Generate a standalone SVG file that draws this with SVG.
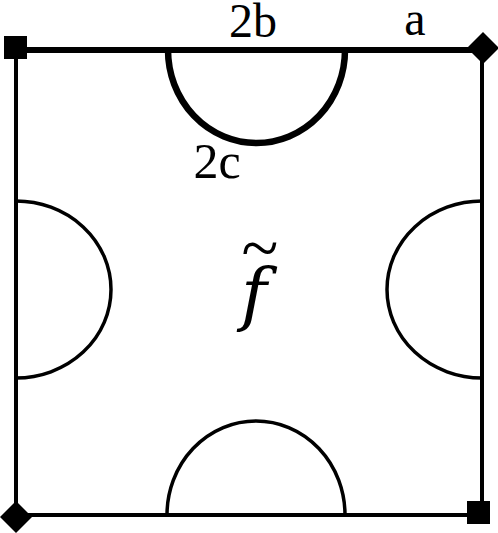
<svg xmlns="http://www.w3.org/2000/svg" width="498" height="533" viewBox="0 0 498 533">
<style>
.edge{stroke:#000;fill:none;stroke-width:4}
.top{stroke:#000;fill:none;stroke-width:6}
.arc{stroke:#000;fill:none;stroke-width:3.5}
.arcb{stroke:#000;fill:none;stroke-width:6.5}
.mk{fill:#000}
</style>
<rect width="498" height="533" fill="#fff"/>
<g id="sides">
<line class="edge" x1="16" y1="47" x2="16" y2="517"/>
<line class="edge" x1="482" y1="47" x2="482" y2="513"/>
<line class="edge" x1="16" y1="515" x2="482" y2="515"/>
<line class="top" x1="15" y1="50" x2="483" y2="50"/>
</g>
<g id="arcs">
<path class="arcb" d="M168,50 A88.5,93 0 0 0 345,50"/>
<path class="arc" d="M167,515 A89,94 0 0 1 345,515"/>
<path class="arc" d="M16,201 A95,88.5 0 0 1 16,378"/>
<path class="arc" d="M482,201 A95,88.5 0 0 0 482,378"/>
</g>
<g id="corners">
<rect class="mk" x="4" y="36" width="23" height="23"/>
<polygon class="mk" points="483,32 499,48 483,64 467,48"/>
<polygon class="mk" points="16,501 32,517 16,533 0,517"/>
<rect class="mk" x="467" y="501" width="23" height="23"/>
</g>
<g id="labels" fill="#000">
<text x="253" y="37" text-anchor="middle" font-size="48" font-family="Liberation Serif, serif">2b</text>
<text x="415" y="35" text-anchor="middle" font-size="48" font-family="Liberation Serif, serif">a</text>
<text x="217" y="178" text-anchor="middle" font-size="50" font-family="Liberation Serif, serif">2c</text>
<text text-anchor="middle" font-family="Liberation Serif, serif"><tspan x="254" y="318" font-style="italic" font-size="70" font-family="DejaVu Serif, serif">f</tspan><tspan x="260" y="271" font-size="68">~</tspan></text>
</g>
</svg>
